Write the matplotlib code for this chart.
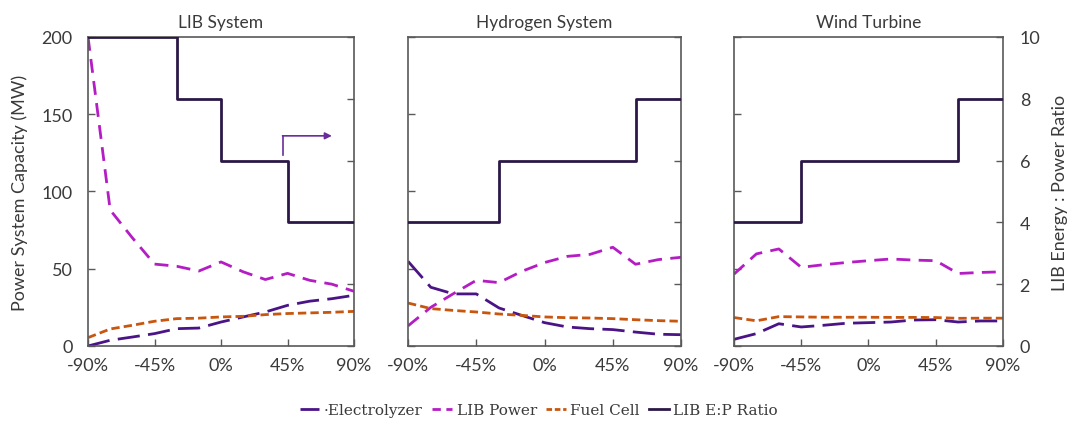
import matplotlib
matplotlib.use("Agg")
from matplotlib import pyplot as plt
from matplotlib.lines import Line2D

# x positions (% change)
change = [-90, -75, -60, -45, -30, -15, 0, 15, 30, 45, 60, 75, 90]

titles = ["LIB System", "Hydrogen System", "Wind Turbine"]

# MW
electrolyzer = [
    [0, 3.7, 5.8, 8, 11.2, 11.6, 15.5, 18.8, 22, 26.3, 29, 30.6, 32.8],
    [54.8, 38, 33.7, 33.7, 24.6, 19.8, 15.1, 12.3, 11.2, 10.6, 9, 7.6, 7.3],
    [4.3, 8, 14.4, 12.3, 13.4, 14.7, 15.1, 15.5, 16.8, 17, 15.5, 16.2, 16.2],
]
lib_power = [
    [200, 88, 70, 53, 51.6, 48.5, 54.4, 48, 43, 47, 42.5, 40, 35.4],
    [13, 25, 33.9, 42.5, 41, 48.3, 54, 58, 59.3, 63.9, 52.9, 55.9, 57.4],
    [46.5, 59.6, 62.8, 50.9, 52.6, 54, 55.2, 56.3, 55.6, 55.2, 46.9, 47.6, 48],
]
fuel_cell = [
    [5.4, 11, 13.4, 16, 17.7, 18, 18.8, 19.2, 20.3, 21, 21.4, 21.8, 22.4],
    [27.8, 24.2, 23, 22, 20.7, 19.8, 18.8, 18.3, 18.1, 17.7, 17, 16.4, 16],
    [18.4, 16.3, 19, 18.8, 18.6, 18.6, 18.6, 18.5, 18.5, 18.4, 17.9, 18, 18],
]
# LIB energy : power ratio (right axis)
ep_ratio = [
    [10, 10, 10, 10, 8, 8, 6, 6, 6, 4, 4, 4, 4],
    [4, 4, 4, 4, 6, 6, 6, 6, 6, 6, 8, 8, 8],
    [4, 4, 4, 6, 6, 6, 6, 6, 6, 6, 8, 8, 8],
]

c_elec = "#4b1486"
c_lib = "#b41cc4"
c_fc = "#c8560e"
c_ep = "#2c1848"

plt.rcParams['font.family'] = 'sans-serif'
plt.rcParams['font.sans-serif'] = ['Lato']
plt.rcParams['font.size'] = 13
plt.rcParams['xtick.direction'] = 'in'
plt.rcParams['ytick.direction'] = 'in'
plt.rcParams['text.color'] = '#3a3a3a'
plt.rcParams['axes.labelcolor'] = '#3a3a3a'
plt.rcParams['xtick.color'] = '#595959'
plt.rcParams['ytick.color'] = '#595959'
plt.rcParams['xtick.labelcolor'] = '#3a3a3a'
plt.rcParams['ytick.labelcolor'] = '#3a3a3a'

fig = plt.figure(figsize=(10.67, 4.27), dpi=100)

lefts = [0.0825, 0.3824, 0.6879]
widths = [0.2493, 0.2559, 0.2521]

for i in range(3):
    ax = fig.add_axes([lefts[i], 0.1874, widths[i], 0.7237])
    ax.plot(change, electrolyzer[i], color=c_elec, lw=2, dashes=(8, 3))
    ax.plot(change, lib_power[i], color=c_lib, lw=2, dashes=(5, 3))
    ax.plot(change, fuel_cell[i], color=c_fc, lw=2, dashes=(3, 1.5))
    ax.set_xlim(-90, 90)
    ax.set_ylim(0, 200)
    ax.set_xticks([-90, -45, 0, 45, 90])
    ax.set_xticklabels(["-90%", "-45%", "0%", "45%", "90%"])
    ax.set_yticks([0, 50, 100, 150, 200])
    ax.tick_params(axis='x', length=5, width=1, pad=8)
    ax.tick_params(axis='y', length=5, width=1, pad=11)
    ax.set_title(titles[i], fontsize=12.5, pad=7)
    for s in ax.spines.values():
        s.set_color('#595959')
        s.set_linewidth(1.2)
    if i == 0:
        ax.set_ylabel("Power System Capacity (MW)", fontsize=13, labelpad=10)
    else:
        ax.tick_params(labelleft=False)

    ax2 = ax.twinx()
    ax2.step(change, ep_ratio[i], where='post', color=c_ep, lw=2)
    ax2.set_ylim(0, 10)
    ax2.set_yticks([0, 2, 4, 6, 8, 10])
    ax2.tick_params(length=5, width=1, pad=12)
    for s in ax2.spines.values():
        s.set_visible(False)
    if i == 2:
        ax2.set_ylabel("LIB Energy : Power Ratio", fontsize=13, labelpad=8)
    else:
        ax2.tick_params(labelright=False)

    if i == 0:
        # arrow pointing the E:P ratio to the right axis
        ax.plot([42, 42], [123.5, 136], color="#6a2c9a", lw=1.2)
        ax.annotate("", xy=(75, 136), xytext=(41.6, 136),
                    arrowprops=dict(arrowstyle="-|>", color="#6a2c9a",
                                    lw=1.2, mutation_scale=10,
                                    shrinkA=0, shrinkB=0))

handles = [
    Line2D([], [], color=c_elec, lw=2, dashes=(8, 3)),
    Line2D([], [], color=c_lib, lw=2, dashes=(3, 2)),
    Line2D([], [], color=c_fc, lw=2, dashes=(2, 1)),
    Line2D([], [], color=c_ep, lw=2),
]
labels = ["·Electrolyzer", "LIB Power", "Fuel Cell", "LIB E:P Ratio"]
fig.legend(handles, labels, loc='center', bbox_to_anchor=(0.505, 0.037),
           ncol=4, frameon=False, handlelength=1.3, handletextpad=0.3,
           columnspacing=0.6,
           prop={'family': 'DejaVu Serif', 'size': 11})

plt.savefig("out.png", dpi=100)
